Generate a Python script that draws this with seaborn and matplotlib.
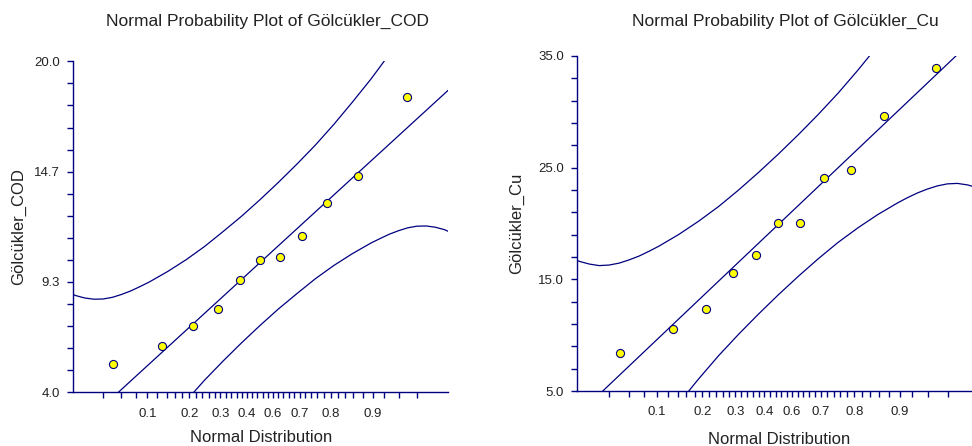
from statistics import NormalDist

import matplotlib
matplotlib.use("Agg")
import matplotlib.pyplot as plt
import matplotlib.ticker as mticker
import pandas as pd
import seaborn as sns

# normal scores of the 11 ranked observations (x positions of the dots)
normal_score = [-1.59, -1.06, -0.73, -0.46, -0.22, 0.0, 0.22, 0.46, 0.73, 1.06, 1.59]

cod_values = [5.37, 6.24, 7.19, 8.04, 9.43, 10.38, 10.54, 11.56, 13.17, 14.44, 18.29]
cu_values = [8.38, 10.55, 12.37, 15.54, 17.21, 20.07, 20.07, 24.07, 24.76, 29.6, 33.93]

# reference line end points
line_z = [-2.1, 2.1]
cod_line = [1.69, 18.85]
cu_line = [2.16, 37.66]

# confidence band curves
band_z = [-2.1, -2.0, -1.9, -1.8, -1.7, -1.6, -1.5, -1.4, -1.3, -1.2, -1.0, -0.8,
          -0.6, -0.4, -0.2, 0.0, 0.2, 0.4, 0.6, 0.8, 1.0, 1.2, 1.3, 1.4, 1.5, 1.6,
          1.7, 1.8, 1.9, 2.0, 2.1]
cod_upper = [8.88, 8.68, 8.56, 8.50, 8.51, 8.59, 8.73, 8.90, 9.11, 9.33, 9.84, 10.41,
             11.05, 11.77, 12.51, 13.31, 14.15, 15.03, 15.95, 16.95, 18.02, 19.13, 19.73,
             20.34, 20.99, 21.67, 22.41, 23.20, 24.08, 25.02, 26.04]
cod_lower = [-5.50, -4.48, -3.54, -2.66, -1.87, -1.13, -0.45, 0.20, 0.81, 1.41, 2.52, 3.59,
             4.59, 5.51, 6.39, 7.23, 8.03, 8.77, 9.49, 10.13, 10.70, 11.21, 11.43,
             11.64, 11.81, 11.95, 12.03, 12.04, 11.98, 11.86, 11.66]
cu_upper = [17.03, 16.61, 16.37, 16.23, 16.28, 16.45, 16.74, 17.08, 17.51, 17.97, 19.02, 20.21,
            21.52, 22.99, 24.56, 26.21, 27.94, 29.75, 31.66, 33.73, 35.92, 38.25, 39.48,
            40.74, 42.09, 43.49, 45.01, 46.65, 48.48, 50.41, 52.53]
cu_lower = [-12.71, -10.59, -8.65, -6.83, -5.18, -3.67, -2.26, -0.92, 0.35, 1.57, 3.90, 6.09,
            8.16, 10.07, 11.88, 13.61, 15.26, 16.83, 18.30, 19.61, 20.80, 21.85, 22.32,
            22.74, 23.09, 23.37, 23.55, 23.59, 23.46, 23.21, 22.79]

# probability ticks on the x axis (every 5th one labelled)
prob_ticks = [k / 45 for k in range(2, 44)]

NAVY = "#000080"
TXT = "#222222"

sns.set_style("white")
plt.rcParams["font.family"] = ["Liberation Sans", "DejaVu Sans"]

fig = plt.figure(figsize=(9.72, 4.46), dpi=100)

panels = [
    dict(rect=[73 / 972, 53.7 / 446, 375 / 972, 331 / 446], xlim=(-2.026, 2.037),
         ylim=(4.0, 20.0), step=16 / 15, values=cod_values, line=cod_line,
         upper=cod_upper, lower=cod_lower, name="Gölcükler_COD",
         title_xy=(0.519, 1.12), ylab_x=-0.145, xlab_xy=(0.501, -0.138)),
    dict(rect=[577 / 972, 55 / 446, 395 / 972, 335 / 446], xlim=(-2.023, 1.947),
         ylim=(5.0, 35.0), step=2.0, values=cu_values, line=cu_line,
         upper=cu_upper, lower=cu_lower, name="Gölcükler_Cu",
         title_xy=(0.528, 1.102), ylab_x=-0.153, xlab_xy=(0.511, -0.146)),
]

nd = NormalDist()
tick_z = [nd.inv_cdf(p) for p in prob_ticks]
major_z = [tick_z[i] for i in range(len(tick_z)) if (i + 2) % 5 == 0]
major_lab = [f"{prob_ticks[i]:.1f}" for i in range(len(tick_z)) if (i + 2) % 5 == 0]

for p in panels:
    ax = fig.add_axes(p["rect"])
    bands = pd.DataFrame({"z": band_z, "upper": p["upper"], "lower": p["lower"]})
    sns.lineplot(data=bands, x="z", y="upper", ax=ax, color=NAVY, lw=0.9,
                 sort=False, estimator=None)
    sns.lineplot(data=bands, x="z", y="lower", ax=ax, color=NAVY, lw=0.9,
                 sort=False, estimator=None)
    sns.lineplot(x=line_z, y=p["line"], ax=ax, color=NAVY, lw=0.9,
                 sort=False, estimator=None)
    pts = pd.DataFrame({"z": normal_score, "v": p["values"]})
    sns.scatterplot(data=pts, x="z", y="v", ax=ax, s=34, color="#FFFF00",
                    edgecolor=NAVY, linewidth=0.8, zorder=5)

    ax.set_xlim(*p["xlim"])
    ax.set_ylim(*p["ylim"])

    lo, hi = p["ylim"]
    ax.yaxis.set_major_locator(mticker.FixedLocator([lo + i * (hi - lo) / 3 for i in range(4)]))
    ax.yaxis.set_minor_locator(mticker.FixedLocator([lo + i * p["step"] for i in range(16)]))
    ax.yaxis.set_major_formatter(mticker.FormatStrFormatter("%.1f"))

    ax.xaxis.set_major_locator(mticker.FixedLocator(major_z))
    ax.xaxis.set_minor_locator(mticker.FixedLocator(tick_z))
    ax.set_xticklabels(major_lab)

    for s in ["top", "right"]:
        ax.spines[s].set_visible(False)
    for s in ["left", "bottom"]:
        ax.spines[s].set_color(NAVY)
        ax.spines[s].set_linewidth(1.0)

    ax.tick_params(axis="both", which="both", direction="out", length=4, width=1,
                   color=NAVY, labelcolor=TXT)
    ax.tick_params(axis="y", labelsize=9.5, pad=5.5, left=True)
    ax.tick_params(axis="x", labelsize=9.5, pad=7, bottom=True)
    ax.tick_params(axis="y", which="minor", left=True)
    ax.tick_params(axis="x", which="minor", bottom=True)

    ax.set_ylabel(p["name"], fontsize=12, color=TXT, va="center")
    ax.yaxis.set_label_coords(p["ylab_x"], 0.5)
    ax.set_xlabel("Normal Distribution", fontsize=12, color=TXT, va="center")
    ax.xaxis.set_label_coords(*p["xlab_xy"])
    ax.set_title("Normal Probability Plot of " + p["name"], fontsize=12.5, color=TXT,
                 x=p["title_xy"][0], y=p["title_xy"][1], va="center", pad=0)

fig.savefig("out.png", dpi=100)
